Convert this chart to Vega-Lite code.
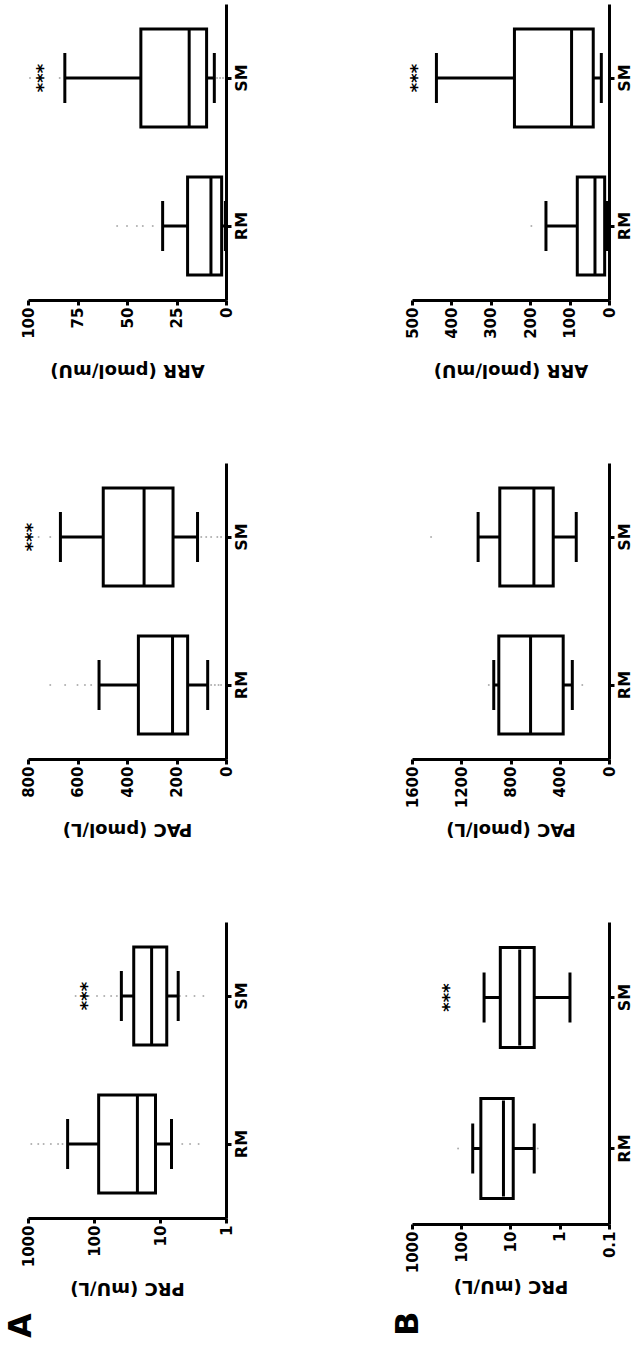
{
  "$schema": "https://vega.github.io/schema/vega-lite/v6.json",
  "background": "white",
  "padding": {"left": 5, "top": 4, "right": 0, "bottom": 0},
  "config": {
    "view": {"stroke": null},
    "font": "DejaVu Sans",
    "tick": {"opacity": 1},
    "axis": {
      "grid": false,
      "domainColor": "black", "domainWidth": 3,
      "tickColor": "black", "tickWidth": 3, "tickSize": 5,
      "labelFont": "DejaVu Sans", "labelFontWeight": "bold", "labelFontSize": 15, "labelColor": "black",
      "labelFlush": false, "labelOverlap": false,
      "titleFont": "DejaVu Sans", "titleFontWeight": "bold", "titleFontSize": 18, "titleColor": "black"
    },
    "axisX": {"orient": "bottom", "labelAngle": 270, "labelPadding": 2, "labelOverlap": false, "tickCount": 10, "titleAngle": 180, "titleBaseline": "bottom", "titleY": 60},
    "axisY": {"orient": "right", "labelAngle": 270, "labelAlign": "center", "labelBaseline": "top", "labelPadding": 2, "labelFontSize": 16}
  },
  "datasets": {
    "box": [
      {"panel": "A-PRC", "group": "RM", "min": 6.7, "q1": 11.7, "median": 22, "q3": 85, "max": 251},
      {"panel": "A-PRC", "group": "SM", "min": 5.3, "q1": 7.9, "median": 13.4, "q3": 25, "max": 38.5},
      {"panel": "A-PAC", "group": "RM", "min": 74, "q1": 155, "median": 216, "q3": 354, "max": 513},
      {"panel": "A-PAC", "group": "SM", "min": 115, "q1": 214, "median": 331, "q3": 496, "max": 669},
      {"panel": "A-ARR", "group": "RM", "min": 0.3, "q1": 2.2, "median": 7.6, "q3": 19.4, "max": 32},
      {"panel": "A-ARR", "group": "SM", "min": 5.9, "q1": 9.8, "median": 18.6, "q3": 43, "max": 81.4},
      {"panel": "B-PRC", "group": "RM", "min": 3.3, "q1": 8.8, "median": 13.9, "q3": 40, "max": 58.5},
      {"panel": "B-PRC", "group": "SM", "min": 0.62, "q1": 3.3, "median": 6.5, "q3": 16.1, "max": 34.4},
      {"panel": "B-PAC", "group": "RM", "min": 298, "q1": 372, "median": 637, "q3": 895, "max": 936},
      {"panel": "B-PAC", "group": "SM", "min": 266, "q1": 453, "median": 610, "q3": 887, "max": 1063},
      {"panel": "B-ARR", "group": "RM", "min": 6, "q1": 11, "median": 35.6, "q3": 80.5, "max": 160},
      {"panel": "B-ARR", "group": "SM", "min": 19.5, "q1": 40, "median": 95, "q3": 240, "max": 438}
    ],
    "outliers": [
      {"panel": "A-PRC", "group": "RM", "value": 890}, {"panel": "A-PRC", "group": "RM", "value": 700},
      {"panel": "A-PRC", "group": "RM", "value": 580}, {"panel": "A-PRC", "group": "RM", "value": 450},
      {"panel": "A-PRC", "group": "RM", "value": 350}, {"panel": "A-PRC", "group": "RM", "value": 300},
      {"panel": "A-PRC", "group": "RM", "value": 4.6}, {"panel": "A-PRC", "group": "RM", "value": 3.5},
      {"panel": "A-PRC", "group": "RM", "value": 2.6},
      {"panel": "A-PRC", "group": "SM", "value": 190}, {"panel": "A-PRC", "group": "SM", "value": 120},
      {"panel": "A-PRC", "group": "SM", "value": 90}, {"panel": "A-PRC", "group": "SM", "value": 70},
      {"panel": "A-PRC", "group": "SM", "value": 55}, {"panel": "A-PRC", "group": "SM", "value": 45},
      {"panel": "A-PRC", "group": "SM", "value": 5}, {"panel": "A-PRC", "group": "SM", "value": 4},
      {"panel": "A-PRC", "group": "SM", "value": 3}, {"panel": "A-PRC", "group": "SM", "value": 2.2},
      {"panel": "A-PAC", "group": "RM", "value": 710}, {"panel": "A-PAC", "group": "RM", "value": 650},
      {"panel": "A-PAC", "group": "RM", "value": 600}, {"panel": "A-PAC", "group": "RM", "value": 570},
      {"panel": "A-PAC", "group": "RM", "value": 545}, {"panel": "A-PAC", "group": "RM", "value": 60},
      {"panel": "A-PAC", "group": "RM", "value": 45}, {"panel": "A-PAC", "group": "RM", "value": 30},
      {"panel": "A-PAC", "group": "RM", "value": 20},
      {"panel": "A-PAC", "group": "SM", "value": 757}, {"panel": "A-PAC", "group": "SM", "value": 710},
      {"panel": "A-PAC", "group": "SM", "value": 100}, {"panel": "A-PAC", "group": "SM", "value": 80},
      {"panel": "A-PAC", "group": "SM", "value": 60}, {"panel": "A-PAC", "group": "SM", "value": 35},
      {"panel": "A-PAC", "group": "SM", "value": 20},
      {"panel": "A-ARR", "group": "RM", "value": 55}, {"panel": "A-ARR", "group": "RM", "value": 50},
      {"panel": "A-ARR", "group": "RM", "value": 45}, {"panel": "A-ARR", "group": "RM", "value": 42},
      {"panel": "A-ARR", "group": "RM", "value": 37},
      {"panel": "A-ARR", "group": "SM", "value": 99}, {"panel": "A-ARR", "group": "SM", "value": 84},
      {"panel": "A-ARR", "group": "SM", "value": 4.5}, {"panel": "A-ARR", "group": "SM", "value": 3},
      {"panel": "A-ARR", "group": "SM", "value": 1.5},
      {"panel": "B-PRC", "group": "RM", "value": 116}, {"panel": "B-PRC", "group": "RM", "value": 2.8},
      {"panel": "B-PAC", "group": "RM", "value": 976}, {"panel": "B-PAC", "group": "RM", "value": 217},
      {"panel": "B-PAC", "group": "SM", "value": 1445},
      {"panel": "B-ARR", "group": "RM", "value": 197}
    ],
    "stars": [
      {"panel": "A-PRC", "group": "SM", "value": 125, "label": "***"},
      {"panel": "A-PAC", "group": "SM", "value": 778, "label": "***"},
      {"panel": "A-ARR", "group": "SM", "value": 92, "label": "***"},
      {"panel": "B-PRC", "group": "SM", "value": 170, "label": "***"},
      {"panel": "B-ARR", "group": "SM", "value": 485, "label": "***"}
    ]
  },
  "spacing": 143,
  "hconcat": [
    {
      "spacing": 85,
      "vconcat": [
        {
          "width": 198, "height": 296,
          "layer": [
            {"data": {"name": "outliers"}, "transform": [{"filter": "datum.panel === 'A-ARR'"}],
             "mark": {"type": "point", "filled": true, "size": 4, "color": "#9a9a9a", "opacity": 0.8},
             "encoding": {
               "x": {"field": "value", "type": "quantitative", "scale": {"domain": [0, 100], "reverse": true, "nice": false, "zero": false},
                     "axis": {"title": "ARR (pmol/mU)", "values": [0, 25, 50, 75, 100], "format": "d", "labelOverlap": false, "tickCount": 10}},
               "y": {"field": "group", "type": "nominal", "scale": {"domain": ["SM", "RM"], "paddingInner": 0.338, "paddingOuter": 0.169}, "axis": {"title": null}}}},
            {"data": {"name": "box"}, "transform": [{"filter": "datum.panel === 'A-ARR'"}],
             "mark": {"type": "rule", "color": "black", "strokeWidth": 3},
             "encoding": {"x": {"field": "min", "type": "quantitative"}, "x2": {"field": "max"}, "y": {"field": "group", "type": "nominal"}}},
            {"data": {"name": "box"}, "transform": [{"filter": "datum.panel === 'A-ARR'"}],
             "mark": {"type": "tick", "color": "black", "thickness": 3, "size": 50},
             "encoding": {"x": {"field": "min", "type": "quantitative"}, "y": {"field": "group", "type": "nominal"}}},
            {"data": {"name": "box"}, "transform": [{"filter": "datum.panel === 'A-ARR'"}],
             "mark": {"type": "tick", "color": "black", "thickness": 3, "size": 50},
             "encoding": {"x": {"field": "max", "type": "quantitative"}, "y": {"field": "group", "type": "nominal"}}},
            {"data": {"name": "box"}, "transform": [{"filter": "datum.panel === 'A-ARR'"}],
             "mark": {"type": "bar", "fill": "white", "stroke": "black", "strokeWidth": 3},
             "encoding": {"x": {"field": "q1", "type": "quantitative"}, "x2": {"field": "q3"}, "y": {"field": "group", "type": "nominal"}}},
            {"data": {"name": "box"}, "transform": [{"filter": "datum.panel === 'A-ARR'"}],
             "mark": {"type": "tick", "color": "black", "thickness": 3, "size": 96},
             "encoding": {"x": {"field": "median", "type": "quantitative"}, "y": {"field": "group", "type": "nominal"}}},
            {"data": {"name": "stars"}, "transform": [{"filter": "datum.panel === 'A-ARR'"}],
             "mark": {"type": "text", "angle": 270, "fontSize": 18, "font": "DejaVu Sans", "fontWeight": "bold", "color": "black"},
             "encoding": {"x": {"field": "value", "type": "quantitative"}, "y": {"field": "group", "type": "nominal"}, "text": {"field": "label"}}}
          ]
        },
        {
          "width": 198, "height": 296,
          "layer": [
            {"data": {"name": "outliers"}, "transform": [{"filter": "datum.panel === 'A-PAC'"}],
             "mark": {"type": "point", "filled": true, "size": 4, "color": "#9a9a9a", "opacity": 0.8},
             "encoding": {
               "x": {"field": "value", "type": "quantitative", "scale": {"domain": [0, 800], "reverse": true, "nice": false, "zero": false},
                     "axis": {"title": "PAC (pmol/L)", "values": [0, 200, 400, 600, 800], "format": "d", "labelOverlap": false, "tickCount": 10}},
               "y": {"field": "group", "type": "nominal", "scale": {"domain": ["SM", "RM"], "paddingInner": 0.338, "paddingOuter": 0.169}, "axis": {"title": null}}}},
            {"data": {"name": "box"}, "transform": [{"filter": "datum.panel === 'A-PAC'"}],
             "mark": {"type": "rule", "color": "black", "strokeWidth": 3},
             "encoding": {"x": {"field": "min", "type": "quantitative"}, "x2": {"field": "max"}, "y": {"field": "group", "type": "nominal"}}},
            {"data": {"name": "box"}, "transform": [{"filter": "datum.panel === 'A-PAC'"}],
             "mark": {"type": "tick", "color": "black", "thickness": 3, "size": 50},
             "encoding": {"x": {"field": "min", "type": "quantitative"}, "y": {"field": "group", "type": "nominal"}}},
            {"data": {"name": "box"}, "transform": [{"filter": "datum.panel === 'A-PAC'"}],
             "mark": {"type": "tick", "color": "black", "thickness": 3, "size": 50},
             "encoding": {"x": {"field": "max", "type": "quantitative"}, "y": {"field": "group", "type": "nominal"}}},
            {"data": {"name": "box"}, "transform": [{"filter": "datum.panel === 'A-PAC'"}],
             "mark": {"type": "bar", "fill": "white", "stroke": "black", "strokeWidth": 3},
             "encoding": {"x": {"field": "q1", "type": "quantitative"}, "x2": {"field": "q3"}, "y": {"field": "group", "type": "nominal"}}},
            {"data": {"name": "box"}, "transform": [{"filter": "datum.panel === 'A-PAC'"}],
             "mark": {"type": "tick", "color": "black", "thickness": 3, "size": 96},
             "encoding": {"x": {"field": "median", "type": "quantitative"}, "y": {"field": "group", "type": "nominal"}}},
            {"data": {"name": "stars"}, "transform": [{"filter": "datum.panel === 'A-PAC'"}],
             "mark": {"type": "text", "angle": 270, "fontSize": 18, "font": "DejaVu Sans", "fontWeight": "bold", "color": "black"},
             "encoding": {"x": {"field": "value", "type": "quantitative"}, "y": {"field": "group", "type": "nominal"}, "text": {"field": "label"}}}
          ]
        },
        {
          "width": 198, "height": 296,
          "title": {"text": "A", "orient": "bottom", "anchor": "start", "angle": 270, "fontSize": 32, "font": "DejaVu Sans", "fontWeight": "bold", "color": "black", "dx": -40, "dy": -15, "offset": 2},
          "layer": [
            {"data": {"name": "outliers"}, "transform": [{"filter": "datum.panel === 'A-PRC'"}],
             "mark": {"type": "point", "filled": true, "size": 4, "color": "#9a9a9a", "opacity": 0.8},
             "encoding": {
               "x": {"field": "value", "type": "quantitative", "scale": {"type": "log", "domain": [1, 1000], "reverse": true, "nice": false},
                     "axis": {"title": "PRC (mU/L)", "values": [1, 10, 100, 1000], "format": "~g", "labelOverlap": false, "tickCount": 10}},
               "y": {"field": "group", "type": "nominal", "scale": {"domain": ["SM", "RM"], "paddingInner": 0.338, "paddingOuter": 0.169}, "axis": {"title": null}}}},
            {"data": {"name": "box"}, "transform": [{"filter": "datum.panel === 'A-PRC'"}],
             "mark": {"type": "rule", "color": "black", "strokeWidth": 3},
             "encoding": {"x": {"field": "min", "type": "quantitative"}, "x2": {"field": "max"}, "y": {"field": "group", "type": "nominal"}}},
            {"data": {"name": "box"}, "transform": [{"filter": "datum.panel === 'A-PRC'"}],
             "mark": {"type": "tick", "color": "black", "thickness": 3, "size": 50},
             "encoding": {"x": {"field": "min", "type": "quantitative"}, "y": {"field": "group", "type": "nominal"}}},
            {"data": {"name": "box"}, "transform": [{"filter": "datum.panel === 'A-PRC'"}],
             "mark": {"type": "tick", "color": "black", "thickness": 3, "size": 50},
             "encoding": {"x": {"field": "max", "type": "quantitative"}, "y": {"field": "group", "type": "nominal"}}},
            {"data": {"name": "box"}, "transform": [{"filter": "datum.panel === 'A-PRC'"}],
             "mark": {"type": "bar", "fill": "white", "stroke": "black", "strokeWidth": 3},
             "encoding": {"x": {"field": "q1", "type": "quantitative"}, "x2": {"field": "q3"}, "y": {"field": "group", "type": "nominal"}}},
            {"data": {"name": "box"}, "transform": [{"filter": "datum.panel === 'A-PRC'"}],
             "mark": {"type": "tick", "color": "black", "thickness": 3, "size": 96},
             "encoding": {"x": {"field": "median", "type": "quantitative"}, "y": {"field": "group", "type": "nominal"}}},
            {"data": {"name": "stars"}, "transform": [{"filter": "datum.panel === 'A-PRC'"}],
             "mark": {"type": "text", "angle": 270, "fontSize": 18, "font": "DejaVu Sans", "fontWeight": "bold", "color": "black"},
             "encoding": {"x": {"field": "value", "type": "quantitative"}, "y": {"field": "group", "type": "nominal"}, "text": {"field": "label"}}}
          ]
        }
      ]
    },
    {
      "spacing": 85,
      "vconcat": [
        {
          "width": 197, "height": 296,
          "layer": [
            {"data": {"name": "outliers"}, "transform": [{"filter": "datum.panel === 'B-ARR'"}],
             "mark": {"type": "point", "filled": true, "size": 4, "color": "#9a9a9a", "opacity": 0.8},
             "encoding": {
               "x": {"field": "value", "type": "quantitative", "scale": {"domain": [0, 500], "reverse": true, "nice": false, "zero": false},
                     "axis": {"title": "ARR (pmol/mU)", "values": [0, 100, 200, 300, 400, 500], "format": "d", "labelOverlap": false, "tickCount": 10}},
               "y": {"field": "group", "type": "nominal", "scale": {"domain": ["SM", "RM"], "paddingInner": 0.338, "paddingOuter": 0.169}, "axis": {"title": null}}}},
            {"data": {"name": "box"}, "transform": [{"filter": "datum.panel === 'B-ARR'"}],
             "mark": {"type": "rule", "color": "black", "strokeWidth": 3},
             "encoding": {"x": {"field": "min", "type": "quantitative"}, "x2": {"field": "max"}, "y": {"field": "group", "type": "nominal"}}},
            {"data": {"name": "box"}, "transform": [{"filter": "datum.panel === 'B-ARR'"}],
             "mark": {"type": "tick", "color": "black", "thickness": 3, "size": 50},
             "encoding": {"x": {"field": "min", "type": "quantitative"}, "y": {"field": "group", "type": "nominal"}}},
            {"data": {"name": "box"}, "transform": [{"filter": "datum.panel === 'B-ARR'"}],
             "mark": {"type": "tick", "color": "black", "thickness": 3, "size": 50},
             "encoding": {"x": {"field": "max", "type": "quantitative"}, "y": {"field": "group", "type": "nominal"}}},
            {"data": {"name": "box"}, "transform": [{"filter": "datum.panel === 'B-ARR'"}],
             "mark": {"type": "bar", "fill": "white", "stroke": "black", "strokeWidth": 3},
             "encoding": {"x": {"field": "q1", "type": "quantitative"}, "x2": {"field": "q3"}, "y": {"field": "group", "type": "nominal"}}},
            {"data": {"name": "box"}, "transform": [{"filter": "datum.panel === 'B-ARR'"}],
             "mark": {"type": "tick", "color": "black", "thickness": 3, "size": 96},
             "encoding": {"x": {"field": "median", "type": "quantitative"}, "y": {"field": "group", "type": "nominal"}}},
            {"data": {"name": "stars"}, "transform": [{"filter": "datum.panel === 'B-ARR'"}],
             "mark": {"type": "text", "angle": 270, "fontSize": 18, "font": "DejaVu Sans", "fontWeight": "bold", "color": "black"},
             "encoding": {"x": {"field": "value", "type": "quantitative"}, "y": {"field": "group", "type": "nominal"}, "text": {"field": "label"}}}
          ]
        },
        {
          "width": 197, "height": 296,
          "layer": [
            {"data": {"name": "outliers"}, "transform": [{"filter": "datum.panel === 'B-PAC'"}],
             "mark": {"type": "point", "filled": true, "size": 4, "color": "#9a9a9a", "opacity": 0.8},
             "encoding": {
               "x": {"field": "value", "type": "quantitative", "scale": {"domain": [0, 1600], "reverse": true, "nice": false, "zero": false},
                     "axis": {"title": "PAC (pmol/L)", "values": [0, 400, 800, 1200, 1600], "format": "d", "labelOverlap": false, "tickCount": 10}},
               "y": {"field": "group", "type": "nominal", "scale": {"domain": ["SM", "RM"], "paddingInner": 0.338, "paddingOuter": 0.169}, "axis": {"title": null}}}},
            {"data": {"name": "box"}, "transform": [{"filter": "datum.panel === 'B-PAC'"}],
             "mark": {"type": "rule", "color": "black", "strokeWidth": 3},
             "encoding": {"x": {"field": "min", "type": "quantitative"}, "x2": {"field": "max"}, "y": {"field": "group", "type": "nominal"}}},
            {"data": {"name": "box"}, "transform": [{"filter": "datum.panel === 'B-PAC'"}],
             "mark": {"type": "tick", "color": "black", "thickness": 3, "size": 50},
             "encoding": {"x": {"field": "min", "type": "quantitative"}, "y": {"field": "group", "type": "nominal"}}},
            {"data": {"name": "box"}, "transform": [{"filter": "datum.panel === 'B-PAC'"}],
             "mark": {"type": "tick", "color": "black", "thickness": 3, "size": 50},
             "encoding": {"x": {"field": "max", "type": "quantitative"}, "y": {"field": "group", "type": "nominal"}}},
            {"data": {"name": "box"}, "transform": [{"filter": "datum.panel === 'B-PAC'"}],
             "mark": {"type": "bar", "fill": "white", "stroke": "black", "strokeWidth": 3},
             "encoding": {"x": {"field": "q1", "type": "quantitative"}, "x2": {"field": "q3"}, "y": {"field": "group", "type": "nominal"}}},
            {"data": {"name": "box"}, "transform": [{"filter": "datum.panel === 'B-PAC'"}],
             "mark": {"type": "tick", "color": "black", "thickness": 3, "size": 96},
             "encoding": {"x": {"field": "median", "type": "quantitative"}, "y": {"field": "group", "type": "nominal"}}}
          ]
        },
        {
          "width": 197, "height": 302,
          "title": {"text": "B", "orient": "bottom", "anchor": "start", "angle": 270, "fontSize": 32, "font": "DejaVu Sans", "fontWeight": "bold", "color": "black", "dx": -40, "dy": -12, "offset": 2},
          "layer": [
            {"data": {"name": "outliers"}, "transform": [{"filter": "datum.panel === 'B-PRC'"}],
             "mark": {"type": "point", "filled": true, "size": 4, "color": "#9a9a9a", "opacity": 0.8},
             "encoding": {
               "x": {"field": "value", "type": "quantitative", "scale": {"type": "log", "domain": [0.1, 1000], "reverse": true, "nice": false},
                     "axis": {"title": "PRC (mU/L)", "values": [0.1, 1, 10, 100, 1000], "format": "~g", "labelOverlap": false, "tickCount": 10, "titleY": 52}},
               "y": {"field": "group", "type": "nominal", "scale": {"domain": ["SM", "RM"], "paddingInner": 0.338, "paddingOuter": 0.169}, "axis": {"title": null}}}},
            {"data": {"name": "box"}, "transform": [{"filter": "datum.panel === 'B-PRC'"}],
             "mark": {"type": "rule", "color": "black", "strokeWidth": 3},
             "encoding": {"x": {"field": "min", "type": "quantitative"}, "x2": {"field": "max"}, "y": {"field": "group", "type": "nominal"}}},
            {"data": {"name": "box"}, "transform": [{"filter": "datum.panel === 'B-PRC'"}],
             "mark": {"type": "tick", "color": "black", "thickness": 3, "size": 50},
             "encoding": {"x": {"field": "min", "type": "quantitative"}, "y": {"field": "group", "type": "nominal"}}},
            {"data": {"name": "box"}, "transform": [{"filter": "datum.panel === 'B-PRC'"}],
             "mark": {"type": "tick", "color": "black", "thickness": 3, "size": 50},
             "encoding": {"x": {"field": "max", "type": "quantitative"}, "y": {"field": "group", "type": "nominal"}}},
            {"data": {"name": "box"}, "transform": [{"filter": "datum.panel === 'B-PRC'"}],
             "mark": {"type": "bar", "fill": "white", "stroke": "black", "strokeWidth": 3},
             "encoding": {"x": {"field": "q1", "type": "quantitative"}, "x2": {"field": "q3"}, "y": {"field": "group", "type": "nominal"}}},
            {"data": {"name": "box"}, "transform": [{"filter": "datum.panel === 'B-PRC'"}],
             "mark": {"type": "tick", "color": "black", "thickness": 3, "size": 96},
             "encoding": {"x": {"field": "median", "type": "quantitative"}, "y": {"field": "group", "type": "nominal"}}},
            {"data": {"name": "stars"}, "transform": [{"filter": "datum.panel === 'B-PRC'"}],
             "mark": {"type": "text", "angle": 270, "fontSize": 18, "font": "DejaVu Sans", "fontWeight": "bold", "color": "black"},
             "encoding": {"x": {"field": "value", "type": "quantitative"}, "y": {"field": "group", "type": "nominal"}, "text": {"field": "label"}}}
          ]
        }
      ]
    }
  ]
}
